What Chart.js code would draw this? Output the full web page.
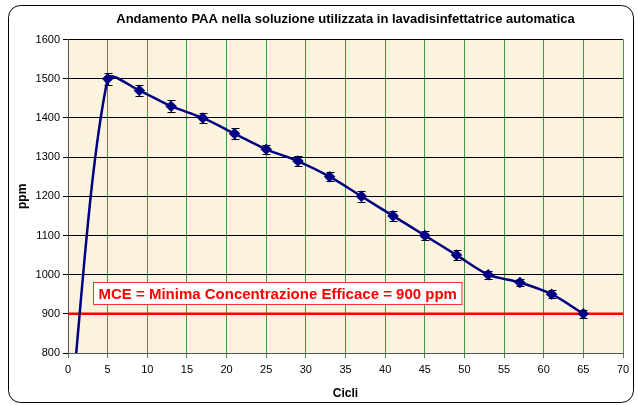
<!DOCTYPE html>
<html>
<head>
<meta charset="utf-8">
<script src="https://cdn.jsdelivr.net/npm/chart.js@4/dist/chart.umd.min.js"></script>
<style>
    body { margin: 0; background: #fff; }
    #wrap { width: 637px; height: 405px; }
</style>
</head>
<body>
<div id="wrap"><canvas id="paaChart" width="637" height="405"></canvas></div>
<script>
// data
const cycles = [0, 5, 9, 13, 17, 21, 25, 29, 33, 37, 41, 45, 49, 53, 57, 61, 65];
const ppmValues = [580, 1500, 1470, 1430, 1400, 1360, 1320, 1290, 1250, 1200, 1150, 1100, 1050, 1000, 980, 950, 900];
const ppmErrors = [15, 15, 15, 15, 12, 14, 12, 12, 12, 14, 12, 12, 12, 10, 10, 10, 10];
const mceValue = 900;
const mceLabel = "MCE = Minima Concentrazione Efficace = 900 ppm";
const chartTitle = "Andamento PAA nella soluzione utilizzata in lavadisinfettatrice automatica";
const xTitle = "Cicli";
const yTitle = "ppm";
const xRange = [0, 70, 5];
const yRange = [800, 1600, 100];

const FONT = "'Liberation Sans', Arial, sans-serif";

// frame, plot background
const backdrop = {
    id: "backdrop",
    beforeDraw(chart) {
        const { ctx, chartArea: a } = chart;
        ctx.save();
        ctx.fillStyle = "#fff";
        ctx.fillRect(0, 0, chart.width, chart.height);
        ctx.fillStyle = "#fcf3df";
        ctx.fillRect(a.left, a.top, a.right - a.left, a.bottom - a.top);
        ctx.strokeStyle = "#000";
        ctx.lineWidth = 1;
        ctx.beginPath();
        ctx.roundRect(8.5, 5.5, chart.width - 12, chart.height - 8, 12);
        ctx.stroke();
        ctx.restore();
    },
};

// red MCE line + label, error bars
const overlays = {
    id: "overlays",
    beforeDatasetsDraw(chart) {
        const { ctx, chartArea: a, scales } = chart;
        const y = scales.y.getPixelForValue(mceValue);
        ctx.save();
        ctx.strokeStyle = "#ff0000";
        ctx.lineWidth = 2.5;
        ctx.beginPath();
        ctx.moveTo(a.left, y);
        ctx.lineTo(a.right, y);
        ctx.stroke();

        // label box
        ctx.font = "bold 15px " + FONT;
        const w = ctx.measureText(mceLabel).width + 10;
        const bx = Math.round(a.left + 25) + 0.5;
        const by = Math.round(y - 32) + 0.5;
        ctx.fillStyle = "#fff";
        ctx.fillRect(bx, by, w, 22);
        ctx.strokeStyle = "#ff3030";
        ctx.lineWidth = 1;
        ctx.strokeRect(bx, by, w, 22);
        ctx.fillStyle = "#ff0000";
        ctx.textBaseline = "middle";
        ctx.fillText(mceLabel, bx + 5, by + 12);

        // error bars
        ctx.beginPath();
        ctx.rect(a.left, a.top, a.right - a.left, a.bottom - a.top);
        ctx.clip();
        ctx.strokeStyle = "#000";
        ctx.lineWidth = 1;
        cycles.forEach((c, i) => {
            const px = Math.round(scales.x.getPixelForValue(c)) + 0.5;
            const top = Math.round(scales.y.getPixelForValue(ppmValues[i] + ppmErrors[i])) + 0.5;
            const bot = Math.round(scales.y.getPixelForValue(ppmValues[i] - ppmErrors[i])) + 0.5;
            ctx.beginPath();
            ctx.moveTo(px, top); ctx.lineTo(px, bot);
            ctx.moveTo(px - 4, top); ctx.lineTo(px + 4, top);
            ctx.moveTo(px - 4, bot); ctx.lineTo(px + 4, bot);
            ctx.stroke();
        });
        ctx.restore();
    },
};

const ctx = document.getElementById("paaChart").getContext("2d");
new Chart(ctx, {
    type: "line",
    data: {
        datasets: [
            {
                data: cycles.map((c, i) => ({ x: c, y: ppmValues[i] })),
                borderColor: "#000080",
                borderWidth: 2.5,
                backgroundColor: "#000080",
                pointStyle: "rectRot",
                pointRadius: cycles.map((c, i) => (ppmValues[i] < yRange[0] ? 0 : 4)),
                tension: 0.3,
                fill: false,
            },
        ],
    },
    options: {
        responsive: false,
        animation: false,
        layout: { padding: { left: 10, right: 14, top: 0, bottom: 0 } },
        plugins: {
            legend: { display: false },
            tooltip: { enabled: false },
            title: {
                display: true,
                fullSize: false,
                text: chartTitle,
                color: "#000",
                font: { family: FONT, size: 13, weight: "bold" },
                padding: { top: 12, bottom: 12 },
            },
        },
        scales: {
            x: {
                type: "linear",
                min: xRange[0],
                max: xRange[1],
                ticks: {
                    stepSize: xRange[2],
                    color: "#000",
                    font: { family: FONT, size: 11 },
                    padding: 5,
                    maxRotation: 0,
                },
                grid: { color: "#3c9a3c", tickLength: 5, lineWidth: 1 },
                border: { color: "#555", width: 1 },
                title: {
                    display: true,
                    text: xTitle,
                    color: "#000",
                    font: { family: FONT, size: 12, weight: "bold" },
                    padding: { top: 0, bottom: 4 },
                },
                afterFit(scale) { scale.height = 52; },
            },
            y: {
                min: yRange[0],
                max: yRange[1],
                ticks: {
                    stepSize: yRange[2],
                    color: "#000",
                    font: { family: FONT, size: 11 },
                    padding: 3,
                    callback: (v) => String(v),
                },
                grid: { color: "#000", tickLength: 5, lineWidth: 1 },
                border: { color: "#555", width: 1 },
                title: {
                    display: true,
                    text: yTitle,
                    color: "#000",
                    font: { family: FONT, size: 12, weight: "bold" },
                    padding: { top: 5, bottom: 0 },
                },
                afterFit(scale) { scale.width = 58; },
            },
        },
    },
    plugins: [backdrop, overlays],
});
</script>
</body>
</html>
